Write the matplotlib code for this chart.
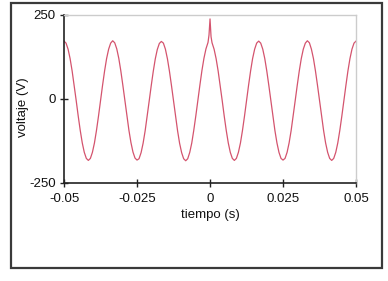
import matplotlib
matplotlib.use("Agg")
import matplotlib.pyplot as plt
from matplotlib.patches import Rectangle

# time in milliseconds
time_ms = [
    -50.00, -49.31, -48.61, -47.92, -47.22, -46.53, -45.83, -45.14, -44.44, -43.75, -43.06, -42.36,
    -41.67, -40.97, -40.28, -39.58, -38.89, -38.19, -37.50, -36.81, -36.11, -35.42, -34.72, -34.03,
    -33.33, -32.64, -31.94, -31.25, -30.56, -29.86, -29.17, -28.47, -27.78, -27.08, -26.39, -25.69,
    -25.00, -24.31, -23.61, -22.92, -22.22, -21.53, -20.83, -20.14, -19.44, -18.75, -18.06, -17.36,
    -16.67, -15.97, -15.28, -14.58, -13.89, -13.19, -12.50, -11.81, -11.11, -10.42, -9.72, -9.03,
    -8.33, -7.64, -6.94, -6.25, -5.56, -4.86, -4.17, -3.47, -2.78, -2.08, -1.39, -0.69, -0.35,
    0.00, 0.35, 0.69, 1.39, 2.08, 2.78, 3.47, 4.17, 4.86, 5.56, 6.25, 6.94, 7.64,
    8.33, 9.03, 9.72, 10.42, 11.11, 11.81, 12.50, 13.19, 13.89, 14.58, 15.28, 15.97,
    16.67, 17.36, 18.06, 18.75, 19.44, 20.14, 20.83, 21.53, 22.22, 22.92, 23.61, 24.31,
    25.00, 25.69, 26.39, 27.08, 27.78, 28.47, 29.17, 29.86, 30.56, 31.25, 31.94, 32.64,
    33.33, 34.03, 34.72, 35.42, 36.11, 36.81, 37.50, 38.19, 38.89, 39.58, 40.28, 40.97,
    41.67, 42.36, 43.06, 43.75, 44.44, 45.14, 45.83, 46.53, 47.22, 47.92, 48.61, 49.31, 50.00]
voltage = [
    172, 166, 148, 120, 83, 40, -5, -51, -94, -131, -159, -177,
    -183, -177, -159, -131, -94, -51, -5, 40, 83, 120, 148, 166,
    173, 167, 149, 121, 84, 41, -4, -50, -93, -130, -158, -176,
    -182, -178, -160, -132, -95, -52, -6, 39, 82, 119, 147, 165,
    171, 166, 148, 119, 82, 39, -6, -52, -95, -132, -160, -178,
    -184, -178, -159, -131, -93, -50, -4, 41, 84, 121, 149, 168, 190,
    238, 185, 167, 148, 120, 83, 40, -5, -51, -94, -131, -159, -177,
    -183, -177, -159, -131, -94, -51, -5, 40, 83, 120, 148, 166,
    172, 166, 148, 120, 83, 40, -5, -51, -94, -131, -159, -177,
    -182, -177, -159, -131, -94, -51, -5, 40, 83, 120, 148, 166,
    173, 167, 148, 120, 83, 40, -5, -51, -94, -131, -159, -177,
    -183, -177, -159, -131, -94, -51, -5, 40, 83, 120, 148, 166, 172]

xticks = [-0.05, -0.025, 0, 0.025, 0.05]
xtick_labels = ["-0.05", "-0.025", "0", "0.025", "0.05"]
yticks = [-250, 0, 250]
ytick_labels = ["-250", "0", "250"]

plt.rcParams['font.family'] = ['Liberation Sans', 'DejaVu Sans']

fig = plt.figure(figsize=(3.88, 2.81), dpi=100)
fig.patch.set_facecolor('white')
fig.add_artist(Rectangle((0.0284, 0.046), 0.956, 0.943, transform=fig.transFigure,
                         fill=False, edgecolor='#3a3a3a', linewidth=1.6))

ax = fig.add_axes([0.165, 0.349, 0.7526, 0.598])
t = [v / 1000.0 for v in time_ms]
ax.plot(t, voltage, color='#d4546e', linewidth=0.9)

ax.set_xlim(-0.05, 0.05)
ax.set_ylim(-250, 250)
ax.set_xticks(xticks)
ax.set_xticklabels(xtick_labels)
ax.set_yticks(yticks)
ax.set_yticklabels(ytick_labels)
ax.tick_params(direction='inout', length=6, width=1.0, labelsize=9.5, color='#222222',
               labelcolor='#111111', pad=3)
ax.tick_params(axis='x', pad=4)
for s in ['top', 'right']:
    ax.spines[s].set_color('#cccccc')
    ax.spines[s].set_linewidth(1.0)
for s in ['left', 'bottom']:
    ax.spines[s].set_color('#222222')
    ax.spines[s].set_linewidth(1.2)
ax.set_xlabel('tiempo (s)', fontsize=9.5, labelpad=3, color='#111111')
ax.set_ylabel('voltaje (V)', fontsize=9.5, labelpad=2, color='#111111')
ax.yaxis.set_label_coords(-0.12, 0.45)

fig.savefig('out.png', dpi=100, facecolor='white')
